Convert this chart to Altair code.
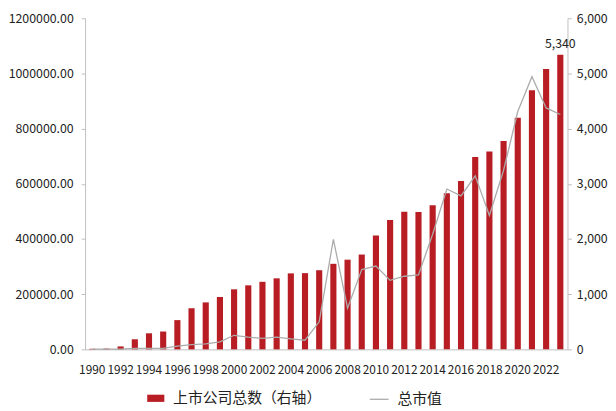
import altair as alt
import pandas as pd

years = list(range(1990, 2024))
companies = [10, 14, 53, 183, 291, 323, 530, 745, 851, 949, 1088, 1160, 1224, 1287,
             1377, 1381, 1434, 1550, 1625, 1718, 2063, 2342, 2494, 2489, 2613, 2827,
             3052, 3485, 3584, 3777, 4195, 4697, 5079, 5340]
market_cap = [1200, 1100, 1048, 3531, 3691, 3474, 12000, 17000, 20000, 27500, 51000,
              44000, 40000, 44000, 38000, 33000, 100000, 399000, 149000, 289000,
              302000, 250000, 265000, 270000, 417000, 581000, 556000, 629000, 485000,
              649000, 862000, 988000, 875000, 851000]
bar_name = "上市公司总数（右轴）"
line_name = "总市值"

df = pd.DataFrame({"year": years, "companies": companies, "cap": market_cap})
df["s_bar"] = bar_name
df["s_line"] = line_name

FONT = "Noto Sans CJK SC"
RED = "#B81D24"
GRAY = "#ABABAB"
AX = "#BFBFBF"

x = alt.X("year:O",
          scale=alt.Scale(paddingInner=0.57, paddingOuter=0.29),
          axis=alt.Axis(title=None, labelAngle=0, ticks=False, domainColor=AX,
                        labelExpr="datum.value % 2 == 0 ? datum.value : ''",
                        labelOverlap=False, labelPadding=15, labelFontSize=12,
                        labelColor="#222", labelFont=FONT))

bars = alt.Chart(df).mark_bar(size=6.2).encode(
    x=x,
    y=alt.Y("companies:Q",
            scale=alt.Scale(domain=[0, 6000], nice=False),
            axis=alt.Axis(title=None, orient="right", values=[0, 1000, 2000, 3000, 4000, 5000, 6000],
                          format=",.0f", grid=False, domainColor=AX, tickColor=AX, tickSize=4,
                          labelPadding=5, labelFontSize=12.5, labelColor="#222", labelFont=FONT)),
    color=alt.Color("s_bar:N", scale=alt.Scale(domain=[bar_name], range=[RED]),
                    legend=alt.Legend(title=None, orient="none", legendX=62, legendY=375,
                                      symbolType="M-1,-0.42H1V0.42H-1Z", symbolSize=300,
                                      symbolOpacity=1, labelFontSize=15, labelFont=FONT,
                                      labelColor="#222", labelOffset=8, padding=0)),
)

label = alt.Chart(df).transform_filter(alt.datum.year == 2023).mark_text(
    dy=-11, fontSize=12.5, font=FONT, color="#222"
).encode(x=x, y=alt.Y("companies:Q"), text=alt.Text("companies:Q", format=",.0f"))

line = alt.Chart(df).mark_line(strokeWidth=1.3).encode(
    x=x,
    y=alt.Y("cap:Q",
            scale=alt.Scale(domain=[0, 1200000], nice=False),
            axis=alt.Axis(title=None, orient="left", values=[0, 200000, 400000, 600000, 800000, 1000000, 1200000],
                          format=".2f", grid=False, domainColor=AX, tickColor=AX, tickSize=4,
                          labelPadding=8, labelFontSize=12.5, labelColor="#222", labelFont=FONT)),
    color=alt.Color("s_line:N", scale=alt.Scale(domain=[line_name], range=[GRAY]),
                    legend=alt.Legend(title=None, orient="none", legendX=287, legendY=375,
                                      symbolType="stroke", symbolSize=361, symbolStrokeWidth=1.3,
                                      labelFontSize=15, labelFont=FONT, labelColor="#222",
                                      labelOffset=8, padding=0)),
)

chart = alt.layer(alt.layer(bars, label), line).resolve_scale(
    y="independent", color="independent"
).properties(
    width=488, height=335, padding={"left": 0, "top": 2, "right": 0, "bottom": 0}
).configure_view(stroke=None)

chart.save("out.html", embed_options={"renderer": "svg", "actions": False})
